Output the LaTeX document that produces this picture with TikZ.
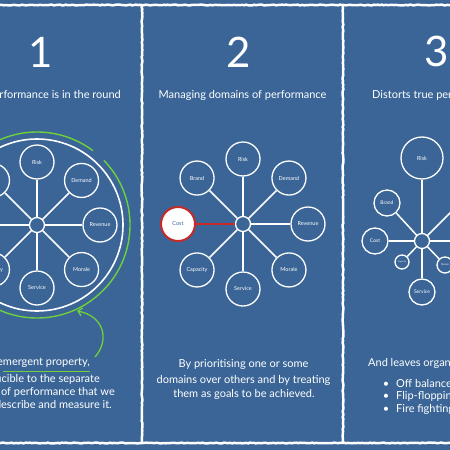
\documentclass[tikz,border=0pt]{standalone}
\usepackage{fontspec}
\setmainfont{Lato}
\usetikzlibrary{arrows.meta,calc,decorations.pathmorphing}
\definecolor{bg}{RGB}{58,101,150}
\definecolor{chalkgreen}{RGB}{112,208,60}
\definecolor{costred}{RGB}{200,40,40}
\begin{document}
\begin{tikzpicture}[x=1pt,y=-1pt,
  dom/.style={circle,draw=white,line width=1.3pt,minimum size=34pt,inner sep=0pt,
    font=\fontsize{5.5}{6}\selectfont,text=white},
  hubn/.style={circle,draw=white,line width=1.3pt,minimum size=15pt,inner sep=0pt},
  link/.style={draw=white,line width=1.5pt},
  border/.style={draw=white,line width=2.5pt,decorate,
    decoration={random steps,segment length=2pt,amplitude=0.4pt}},
  txt/.style={text=white,font=\fontsize{11}{13}\selectfont,inner sep=0pt},
  num/.style={text=white,font=\fontsize{42}{42}\selectfont,inner sep=0pt}]
\fill[bg] (0,0) rectangle (450,450);
\useasboundingbox (0,0) rectangle (450,450);
% borders
\draw[border] (-10,5) -- (460,5);
\draw[border] (-10,443) -- (460,443);
\draw[border] (142,5) -- (142,443);
\draw[border] (343,5) -- (343,443);

% ---------- Panel 1 ----------
\node[num] (n1) at (41,52) {1};
\node[txt,anchor=base east] (t1) at (121,98) {Performance is in the round};
\node[hubn] (h1) at (37,225) {};
\node[circle,draw=white,line width=1.6pt,minimum size=172pt,inner sep=0pt] (ring1) at (37,225) {};
\node[dom] (r1) at ($(h1)+(90:63pt)$) {Risk};
\node[dom] (d1) at ($(h1)+(45:63pt)$) {Demand};
\node[dom] (v1) at ($(h1)+(0:63pt)$) {Revenue};
\node[dom] (m1) at ($(h1)+(-45:63pt)$) {Morale};
\node[dom] (s1) at ($(h1)+(-90:63pt)$) {Service};
\node[dom] (c1) at ($(h1)+(-135:63pt)$) {Capacity};
\node[dom] (k1) at ($(h1)+(180:63pt)$) {Cost};
\node[dom] (b1) at ($(h1)+(135:63pt)$) {Brand};
\foreach \n in {r1,d1,v1,m1,s1,c1,k1,b1} \draw[link] (h1) -- (\n);
\draw[chalkgreen,line width=1.4pt] ($(h1)+(44:93pt)$) arc[start angle=44,end angle=-307,radius=93pt];
\coordinate (arrS) at (95,357);
\coordinate (arrE) at (77,311);
\draw[chalkgreen,line width=1.3pt,-{Straight Barb[length=4pt,width=8pt]}] (arrS) .. controls (110,340) and (104,316) .. (arrE);
\node[txt,anchor=base east] (b1a) at (90,365) {It is an emergent property,};
\coordinate (ulS) at (3,371);
\coordinate (ulE) at (90,371);
\draw[chalkgreen,line width=1pt] (ulS) -- (ulE);
\node[txt,anchor=base east] (b1b) at (100,382) {irreducible to the separate};
\node[txt,anchor=base east] (b1c) at (115,395) {domains of performance that we};
\node[txt,anchor=base east] (b1d) at (112,408) {use to describe and measure it.};

% ---------- Panel 2 ----------
\node[num] (n2) at (239,52) {2};
\node[txt,anchor=base] (t2) at (242.5,98) {Managing domains of performance};
\node[hubn] (h2) at (243,224) {};
\node[dom] (r2) at ($(h2)+(90:65pt)$) {Risk};
\node[dom] (d2) at ($(h2)+(45:65pt)$) {Demand};
\node[dom] (v2) at ($(h2)+(0:65pt)$) {Revenue};
\node[dom] (m2) at ($(h2)+(-45:65pt)$) {Morale};
\node[dom] (s2) at ($(h2)+(-90:65pt)$) {Service};
\node[dom] (c2) at ($(h2)+(-135:65pt)$) {Capacity};
\node[dom] (b2) at ($(h2)+(135:65pt)$) {Brand};
\node[dom,fill=white,draw=costred,line width=2pt,text=bg] (k2) at ($(h2)+(180:65pt)$) {Cost};
\foreach \n in {r2,d2,v2,m2,s2,c2,b2} \draw[link] (h2) -- (\n);
\draw[costred,line width=1.8pt] (h2) -- (k2);
\node[txt,anchor=base] (b2a) at (243.5,367) {By prioritising one or some};
\node[txt,anchor=base] (b2b) at (243.5,383) {domains over others and by treating};
\node[txt,anchor=base] (b2c) at (244,397) {them as goals to be achieved.};

% ---------- Panel 3 ----------
\node[num] (n3) at (437,51) {3};
\node[txt,anchor=base west] (t3) at (372,98) {Distorts true performance};
\node[hubn] (h3) at (422,241) {};
\node[dom,minimum size=42pt] (r3) at (422,158) {Risk};
\node[dom,minimum size=26pt,font=\fontsize{5}{5}\selectfont] (b3) at (387,203) {Brand};
\node[dom,minimum size=26pt,font=\fontsize{5}{5}\selectfont] (k3) at (375,241) {Cost};
\node[dom,minimum size=14pt,font=\fontsize{2.2}{2.2}\selectfont] (c3) at (402,262) {Capacity};
\node[dom,minimum size=26pt,font=\fontsize{5}{5}\selectfont] (s3) at (422,292) {Service};
\node[dom,minimum size=16pt,font=\fontsize{2.5}{2.5}\selectfont] (m3) at (445,265) {Morale};
\node[dom,minimum size=30pt] (v3) at (492,241) {Revenue};
\node[dom,minimum size=30pt] (d3) at ($(h3)+(45:70pt)$) {Demand};
\foreach \n in {r3,b3,k3,c3,s3,m3,v3,d3} \draw[link] (h3) -- (\n);
\node[txt,anchor=base west] (b3a) at (368,366) {And leaves organisations:};
\node[txt,anchor=base west] (l1) at (396,387) {Off balance};
\node[txt,anchor=base west] (l2) at (396,399) {Flip-flopping};
\node[txt,anchor=base west] (l3) at (396,412) {Fire fighting};
\node[txt,anchor=base] (u1) at (386,387) {•};
\node[txt,anchor=base] (u2) at (386,399) {•};
\node[txt,anchor=base] (u3) at (386,412) {•};
\end{tikzpicture}
\end{document}
